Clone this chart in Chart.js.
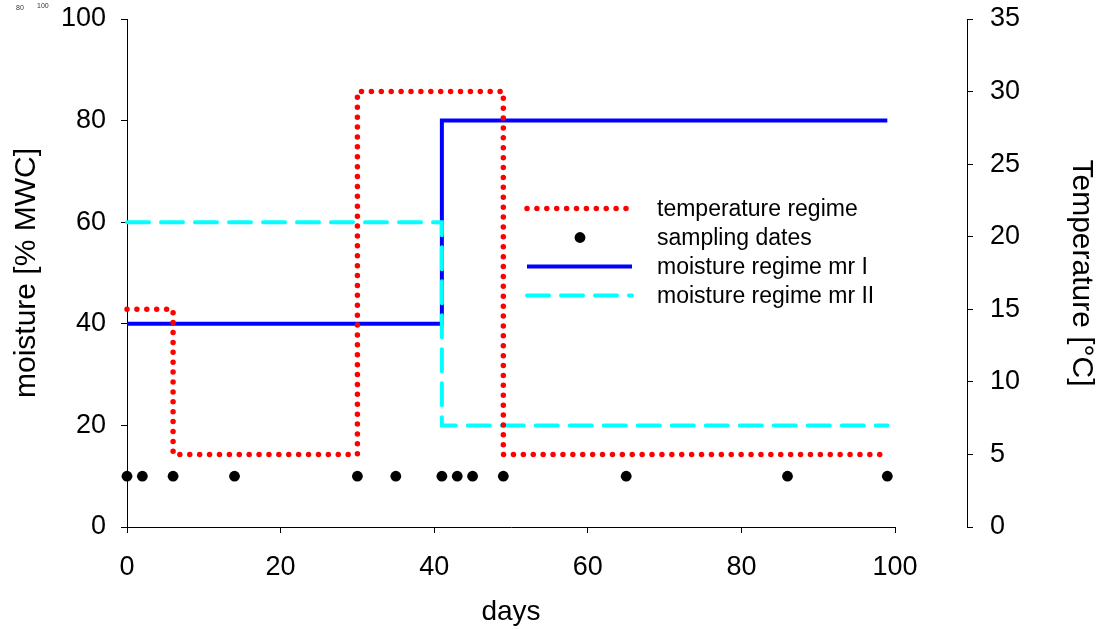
<!DOCTYPE html>
<html>
<head>
<meta charset="utf-8">
<title>moisture and temperature regimes</title>
<script src="https://cdn.jsdelivr.net/npm/chart.js@4.4.1/dist/chart.umd.min.js"></script>
<style>
  html, body { margin: 0; padding: 0; background: #fff; }
  #chart { display: block; }
</style>
</head>
<body>
<canvas id="chart" width="1104" height="629"></canvas>
<script>
// step regimes (days / value)
const tempDays = [0, 6, 6, 30, 30, 49, 49, 99];
const tempValues = [15, 15, 5, 5, 30, 30, 5, 5];

const mr1Days = [0, 41, 41, 99];
const mr1Values = [40, 40, 80, 80];

const mr2Days = [0, 41, 41, 99];
const mr2Values = [60, 60, 20, 20];

const samplingDays = [0, 2, 6, 14, 30, 35, 41, 43, 45, 49, 65, 86, 99];
const samplingLevel = [10, 10, 10, 10, 10, 10, 10, 10, 10, 10, 10, 10, 10];

// tick labels
const dayTicks = [0, 20, 40, 60, 80, 100];
const moistureTicks = [0, 20, 40, 60, 80, 100];
const tempTicks = [0, 5, 10, 15, 20, 25, 30, 35];

const legendOrder = ['temperature regime', 'sampling dates', 'moisture regime mr I', 'moisture regime mr II'];

Chart.defaults.font.family = '"Liberation Sans", Arial, sans-serif';
Chart.defaults.color = '#000';

function toPoints(xs, ys) {
    return xs.map((x, i) => ({ x: x, y: ys[i] }));
}

function fixedTicks(values) {
    return scale => { scale.ticks = values.map(v => ({ value: v })); };
}

// fixed axis width, and no extra room reserved above the plot for the top label
function fixedWidth(w) {
    return scale => {
        scale.width = w;
        scale.paddingTop = 0;
        scale.paddingBottom = 0;
    };
}

// Legend sits inside the plot area, drawn from the dataset styles
const insideLegend = {
    id: 'insideLegend',
    afterDatasetsDraw(chart) {
        const ctx = chart.ctx;
        const x0 = 527, x1 = 632, textX = 657;
        let y = 208.5;
        legendOrder.forEach(label => {
            const ds = chart.data.datasets.find(d => d.label === label);
            ctx.save();
            if (ds.showLine === false) {
                ctx.beginPath();
                ctx.arc(580, y, ds.pointRadius, 0, Math.PI * 2);
                ctx.fillStyle = ds.pointBackgroundColor;
                ctx.fill();
            } else {
                ctx.beginPath();
                ctx.strokeStyle = ds.borderColor;
                ctx.lineWidth = ds.borderWidth;
                ctx.setLineDash(ds.borderDash || []);
                ctx.lineCap = ds.borderCapStyle || 'butt';
                ctx.moveTo(x0, y);
                ctx.lineTo(x1, y);
                ctx.stroke();
            }
            ctx.setLineDash([]);
            ctx.fillStyle = '#000';
            ctx.font = '23px "Liberation Sans", Arial, sans-serif';
            ctx.textAlign = 'left';
            ctx.textBaseline = 'middle';
            ctx.fillText(label, textX, y + 1);
            ctx.restore();
            y += 29;
        });
    },
    afterDraw(chart) {
        // stray tiny labels in the top-left corner of the original
        const ctx = chart.ctx;
        ctx.save();
        ctx.fillStyle = '#333';
        ctx.font = '7px "Liberation Sans", Arial, sans-serif';
        ctx.textBaseline = 'middle';
        ctx.fillText('80', 16, 8);
        ctx.fillText('100', 37, 6);
        ctx.restore();
    }
};

const tickGrid = { drawOnChartArea: false, drawTicks: true, tickLength: 6, color: '#000', lineWidth: 1 };
const axisBorder = { display: true, color: '#000', width: 1 };

new Chart(document.getElementById('chart'), {
    type: 'line',
    data: {
        datasets: [
            {
                label: 'temperature regime',
                data: toPoints(tempDays, tempValues),
                yAxisID: 'y2',
                borderColor: '#ff0000',
                borderWidth: 5.5,
                borderDash: [0, 9.9],
                borderCapStyle: 'round',
                borderJoinStyle: 'round',
                pointRadius: 0,
                fill: false,
                tension: 0,
                clip: false
            },
            {
                label: 'sampling dates',
                data: toPoints(samplingDays, samplingLevel),
                yAxisID: 'y',
                showLine: false,
                pointRadius: 5.4,
                pointBackgroundColor: '#000',
                pointBorderColor: '#000',
                pointBorderWidth: 0,
                clip: false
            },
            {
                label: 'moisture regime mr II',
                data: toPoints(mr2Days, mr2Values),
                yAxisID: 'y',
                borderColor: '#00ffff',
                borderWidth: 4,
                borderDash: [22, 12],
                borderCapStyle: 'round',
                pointRadius: 0,
                fill: false,
                tension: 0,
                clip: false
            },
            {
                label: 'moisture regime mr I',
                data: toPoints(mr1Days, mr1Values),
                yAxisID: 'y',
                borderColor: '#0000ff',
                borderWidth: 4,
                pointRadius: 0,
                fill: false,
                tension: 0,
                clip: false
            }
        ]
    },
    options: {
        responsive: false,
        devicePixelRatio: 1,
        animation: false,
        events: [],
        layout: { padding: { top: 19, left: 0, right: 0, bottom: 0 } },
        plugins: {
            legend: { display: false },
            tooltip: { enabled: false }
        },
        scales: {
            x: {
                type: 'linear',
                position: 'bottom',
                min: 0,
                max: 100,
                afterBuildTicks: fixedTicks(dayTicks),
                afterFit: s => { s.height = 102; },
                border: axisBorder,
                grid: tickGrid,
                ticks: { color: '#000', font: { size: 27 }, padding: 18, maxRotation: 0 },
                title: { display: true, text: 'days', color: '#000', font: { size: 28 }, padding: { top: 0, bottom: 0 } }
            },
            y: {
                type: 'linear',
                position: 'left',
                min: 0,
                max: 100,
                afterBuildTicks: fixedTicks(moistureTicks),
                afterFit: fixedWidth(127),
                border: axisBorder,
                grid: tickGrid,
                ticks: { color: '#000', font: { size: 27 }, padding: 15 },
                title: { display: true, text: 'moisture [% MWC]', color: '#000', font: { size: 30 }, padding: { top: 9, bottom: 0 } }
            },
            // empty spacer so the temperature axis stands apart from the plot
            gap: {
                type: 'linear',
                position: 'right',
                weight: 0,
                afterFit: fixedWidth(72),
                border: { display: false },
                grid: { display: false },
                ticks: { display: false }
            },
            y2: {
                type: 'linear',
                position: 'right',
                weight: 10,
                min: 0,
                max: 35,
                afterBuildTicks: fixedTicks(tempTicks),
                afterFit: fixedWidth(137),
                border: axisBorder,
                grid: tickGrid,
                ticks: { color: '#000', font: { size: 27 }, padding: 17 },
                title: { display: true, text: 'Temperature [°C]', color: '#000', font: { size: 30 }, padding: { top: 5, bottom: 0 } }
            }
        }
    },
    plugins: [insideLegend]
});
</script>
</body>
</html>
